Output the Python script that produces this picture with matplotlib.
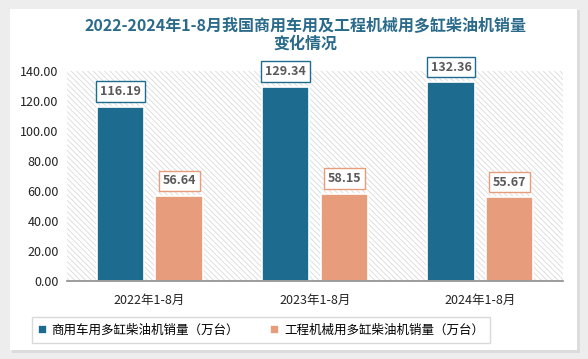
import matplotlib.pyplot as plt
import numpy as np
from matplotlib.patches import Rectangle

plt.rcParams['font.family'] = ['Noto Sans CJK SC', 'DejaVu Sans']
plt.rcParams['hatch.color'] = '#DADADA'
plt.rcParams['hatch.linewidth'] = 0.6

categories = ['2022年1-8月', '2023年1-8月', '2024年1-8月']
commercial = [116.19, 129.34, 132.36]
engineering = [56.64, 58.15, 55.67]
series_names = ['商用车用多缸柴油机销量（万台）', '工程机械用多缸柴油机销量（万台）']
title = '2022-2024年1-8月我国商用车用及工程机械用多缸柴油机销量\n变化情况'

blue = '#1D6C8F'
orange = '#E79C7B'

fig = plt.figure(figsize=(5.88, 3.59), dpi=100, facecolor='#EDEDED')
# white card with soft shadow
fig.patches.append(Rectangle((12 / 588, 6 / 359), 568 / 588, 343 / 359, transform=fig.transFigure,
                             facecolor='#DCDCDC', edgecolor='none', zorder=-2))
fig.patches.append(Rectangle((10 / 588, 9 / 359), 567 / 588, 341 / 359, transform=fig.transFigure,
                             facecolor='white', edgecolor='none', zorder=-1))

ax = fig.add_axes([67 / 588, 78 / 359, 496 / 588, 210 / 359])
ax.set_facecolor('none')

# hatched plot background
ax.add_patch(Rectangle((0, 0), 1, 1, transform=ax.transAxes, facecolor='white',
                       edgecolor='#DADADA', linewidth=0, hatch='\\\\\\\\\\\\', zorder=0))

x = np.arange(len(categories))
w = 0.285
gap = 0.035
b1 = ax.bar(x - w / 2 - gap, commercial, w, color=blue, edgecolor='white', linewidth=1.2,
            label=series_names[0], zorder=2)
b2 = ax.bar(x + w / 2 + gap, engineering, w, color=orange, edgecolor='white', linewidth=1.2,
            label=series_names[1], zorder=2)

for bars, vals, col in [(b1, commercial, blue), (b2, engineering, orange)]:
    for r, v in zip(bars, vals):
        ax.annotate(f'{v:.2f}', (r.get_x() + r.get_width() / 2, v), xytext=(0, 11),
                    textcoords='offset points', ha='center', va='center',
                    fontsize=9, fontweight='bold', color='#595959', zorder=4,
                    bbox=dict(boxstyle='square,pad=0.3', facecolor='white', edgecolor=col, linewidth=1))

ax.set_xlim(-0.5, 2.5)
ax.set_ylim(0, 140)
ax.set_yticks(np.arange(0, 141, 20))
ax.set_yticklabels([f'{v:.2f}' for v in np.arange(0, 141, 20)], fontsize=9, color='#222222')
ax.set_xticks(x)
ax.set_xticklabels(categories, fontsize=9, color='#222222')
ax.tick_params(length=0, pad=6)
ax.tick_params(axis='x', pad=9)
for s in ['top', 'right', 'left']:
    ax.spines[s].set_visible(False)
ax.spines['bottom'].set_color('#8C8C8C')
ax.spines['bottom'].set_linewidth(1.2)
ax.spines['bottom'].set_zorder(3)

fig.text(0.52, 0.905, title, ha='center', va='center', fontsize=11.5, fontweight='bold',
         color='#2A6A8A', linespacing=1.2)

leg = fig.legend(loc='center', bbox_to_anchor=(261 / 588, 1 - 330 / 359), ncol=2, fontsize=9,
                 frameon=True, fancybox=False, edgecolor='#D0D0D0', handlelength=0.7,
                 handleheight=0.7, handletextpad=0.4, columnspacing=2.5, borderpad=0.5)
leg.get_frame().set_linewidth(1)

fig.savefig('out.png', dpi=100, facecolor=fig.get_facecolor())
